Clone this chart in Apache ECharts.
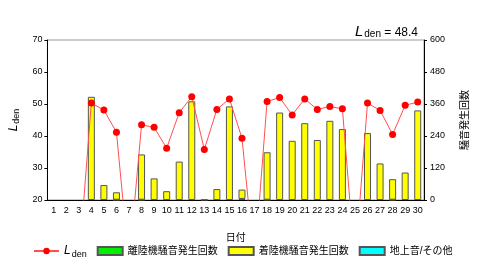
<!DOCTYPE html>
<html>
<head>
<meta charset="utf-8">
<script src="https://cdn.jsdelivr.net/npm/echarts@6/dist/echarts.min.js"></script>
<style>
    html, body { margin: 0; padding: 0; background: #fff; }
    #chart { width: 480px; height: 263px; }
</style>
</head>
<body>
<div id="chart"></div>
<script>
    // 日付
    var days = ['1','2','3','4','5','6','7','8','9','10','11','12','13','14','15',
        '16','17','18','19','20','21','22','23','24','25','26','27','28','29','30'];
    // Lden (0 = 欠測, 軸の下に隠れる)
    var lden = [0, 0, 0, 50.3, 48.1, 41.2, 0, 43.5, 42.7, 36.2, 47.3, 52.3, 35.8, 48.3, 51.6,
        39.3, 0, 50.8, 52.0, 46.6, 51.6, 48.3, 49.2, 48.5, 0, 50.3, 48.0, 40.5, 49.6, 50.6];
    // 離陸機騒音発生回数
    var takeoff = [null, null, null, null, null, 1, null, 1, null, null, null, null, 1, null, null,
        4, null, 1, null, null, null, null, null, null, null, null, null, 1, null, null];
    // 着陸機騒音発生回数
    var landing = [null, null, null, 387, 56, 28, null, 170, 81, 33, 144, 370, null, 41, 351,
        35, null, 178, 328, 222, 288, 225, 297, 266, null, 251, 137, 77, 103, 336];
    // 地上音/その他
    var other = [null, null, null, null, null, null, null, null, null, null, null, null, null, null, null,
        null, null, null, null, null, null, null, null, null, null, null, null, null, null, null];
    var ldenTotal = '48.4';

    var font = '"Liberation Sans", Arial, "Noto Sans CJK JP", sans-serif';
    var barBorder = { borderColor: '#555', borderWidth: 1 };

    var option = {
        animation: false,
        textStyle: { fontFamily: font },
        title: {
            text: '{l|L}{s|den}{v| = ' + ldenTotal + '}',
            right: 57,
            top: 18,
            textStyle: {
                fontWeight: 'normal',
                rich: {
                    l: { fontSize: 15, fontStyle: 'italic', fontWeight: 'normal', fontFamily: font, color: '#000', verticalAlign: 'bottom' },
                    s: { fontSize: 10, fontWeight: 'normal', fontFamily: font, color: '#000', padding: [6, 0, 0, 1], verticalAlign: 'bottom' },
                    v: { fontSize: 12, fontWeight: 'normal', fontFamily: font, color: '#000', verticalAlign: 'bottom' }
                }
            }
        },
        grid: {
            left: 40, right: 56, top: 40, bottom: 63,
            show: true, borderColor: '#999', borderWidth: 1
        },
        legend: {
            top: 240,
            left: 28,
            itemGap: 10,
            itemWidth: 25,
            itemHeight: 8,
            textStyle: {
                fontSize: 10, color: '#000', fontFamily: font,
                rich: {
                    l: { fontSize: 12, fontStyle: 'italic', color: '#000', fontFamily: font },
                    s: { fontSize: 9, color: '#000', fontFamily: font, padding: [7, 0, 0, 1] }
                }
            },
            formatter: function (name) {
                return name === 'Lden' ? '{l|L}{s|den}' : name;
            },
            data: [
                { name: 'Lden' },
                { name: '離陸機騒音発生回数', icon: 'rect' },
                { name: '着陸機騒音発生回数', icon: 'rect' },
                { name: '地上音/その他', icon: 'rect' }
            ]
        },
        xAxis: {
            type: 'category',
            data: days,
            name: '日付',
            nameLocation: 'middle',
            nameGap: 33,
            nameTextStyle: { fontSize: 10, color: '#000' },
            axisLine: { lineStyle: { color: '#000' } },
            axisTick: { show: false },
            axisLabel: { fontSize: 9, color: '#000', interval: 0, margin: 6 }
        },
        yAxis: [
            {
                type: 'value',
                min: 20, max: 70, interval: 10,
                name: '{l|L}{s|den}',
                nameLocation: 'middle',
                nameRotate: 90,
                nameGap: 20,
                nameTextStyle: {
                    rich: {
                        l: { fontSize: 12, fontStyle: 'italic', color: '#000', fontFamily: font },
                        s: { fontSize: 9, color: '#000', fontFamily: font, padding: [6, 0, 0, 1] }
                    }
                },
                axisLine: { show: true, lineStyle: { color: '#000' } },
                axisTick: { show: true, length: 3, lineStyle: { color: '#000' } },
                axisLabel: { fontSize: 9, color: '#000', margin: 5 },
                splitLine: { show: false }
            },
            {
                type: 'value',
                min: 0, max: 600, interval: 120,
                position: 'right',
                name: '騒音発生回数',
                nameLocation: 'middle',
                nameRotate: 90,
                nameGap: 35,
                nameTextStyle: { fontSize: 10, color: '#000', fontFamily: '"Noto Sans CJK JP", sans-serif' },
                axisLine: { show: true, lineStyle: { color: '#000' } },
                axisTick: { show: true, length: 3, lineStyle: { color: '#000' } },
                axisLabel: { fontSize: 9, color: '#000', margin: 6 },
                splitLine: { show: false }
            }
        ],
        series: [
            {
                name: '離陸機騒音発生回数',
                type: 'bar',
                yAxisIndex: 1,
                stack: 'cnt',
                barWidth: 7,
                data: takeoff,
                itemStyle: Object.assign({ color: '#00ee00' }, barBorder)
            },
            {
                name: '着陸機騒音発生回数',
                type: 'bar',
                yAxisIndex: 1,
                stack: 'cnt',
                barWidth: 7,
                data: landing,
                itemStyle: Object.assign({ color: '#ffff00' }, barBorder)
            },
            {
                name: '地上音/その他',
                type: 'bar',
                yAxisIndex: 1,
                stack: 'cnt',
                barWidth: 7,
                data: other,
                itemStyle: Object.assign({ color: '#00ffff' }, barBorder)
            },
            {
                name: 'Lden',
                type: 'line',
                yAxisIndex: 0,
                data: lden,
                clip: true,
                symbol: 'circle',
                symbolSize: 7,
                itemStyle: { color: '#ff0000' },
                lineStyle: { color: '#ff5050', width: 1 },
                z: 5
            }
        ]
    };

    var myChart = echarts.init(document.getElementById('chart'));
    myChart.setOption(option);
</script>
</body>
</html>
